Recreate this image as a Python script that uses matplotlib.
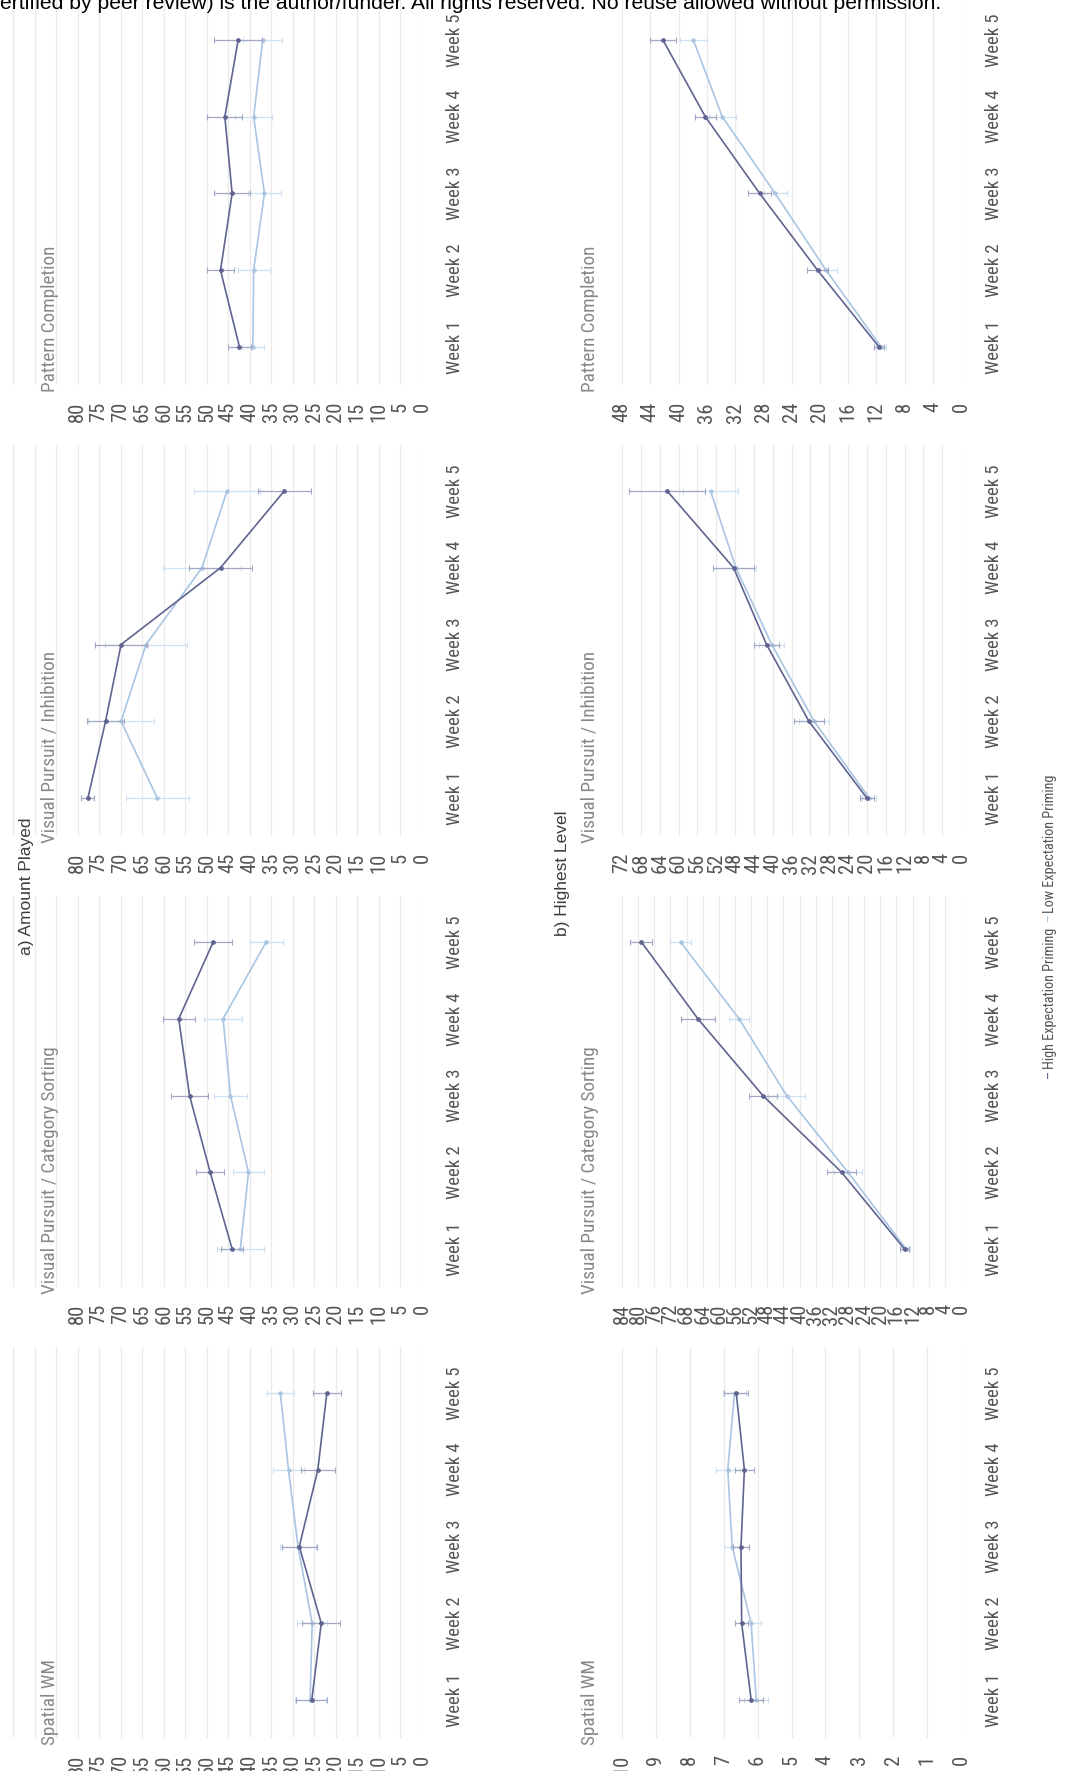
import numpy as np
import matplotlib
matplotlib.use("Agg")
import matplotlib.pyplot as plt
from matplotlib import font_manager
from matplotlib.font_manager import FontProperties
from matplotlib.ticker import FixedLocator, FuncFormatter

# ---------------- data ----------------
weeks = ["Week 1", "Week 2", "Week 3", "Week 4", "Week 5"]
panel_titles = ["Pattern Completion", "Visual Pursuit / Inhibition",
                "Visual Pursuit / Category Sorting", "Spatial WM"]
series_names = ["High Expectation Priming", "Low Expectation Priming"]
header = ("ertified by peer review) is the author/funder. All rights reserved. "
          "No reuse allowed without permission.")

# a) Amount Played
amt_pc_high = [42.4, 46.8, 44.1, 45.8, 42.7]
amt_pc_low = [39.3, 39.1, 36.6, 39.1, 37.0]
amt_pc_high_err = [2.7, 3.2, 4.1, 4.1, 5.5]
amt_pc_low_err = [2.5, 3.7, 3.9, 4.3, 4.5]

amt_inh_high = [77.6, 73.5, 69.9, 46.8, 32.0]
amt_inh_low = [61.5, 69.9, 64.1, 51.1, 45.3]
amt_inh_high_err = [1.5, 4.3, 6.1, 7.4, 6.2]
amt_inh_low_err = [7.3, 7.6, 9.5, 9.0, 7.6]

amt_cs_high = [44.1, 49.2, 54.0, 56.5, 48.5]
amt_cs_low = [42.2, 40.3, 44.5, 46.2, 36.2]
amt_cs_high_err = [2.5, 3.2, 4.4, 3.7, 4.4]
amt_cs_low_err = [5.4, 3.6, 3.9, 4.4, 3.8]

amt_swm_high = [25.6, 23.4, 28.5, 24.2, 22.1]
amt_swm_low = [26.0, 25.5, 28.8, 31.0, 32.9]
amt_swm_high_err = [3.6, 4.4, 4.1, 3.9, 3.3]
amt_swm_low_err = [3.6, 3.5, 4.1, 3.6, 3.1]

# b) Highest Level
hl_pc_high = [11.6, 20.3, 28.5, 36.2, 42.2]
hl_pc_low = [11.3, 19.1, 26.3, 33.8, 37.9]
hl_pc_high_err = [0.7, 1.5, 1.6, 1.5, 1.9]
hl_pc_low_err = [0.7, 1.5, 1.6, 1.9, 1.9]

hl_inh_high = [20.0, 32.3, 41.3, 48.3, 62.4]
hl_inh_low = [19.5, 31.2, 40.2, 47.8, 53.2]
hl_inh_high_err = [1.5, 3.2, 2.6, 4.3, 8.1]
hl_inh_low_err = [1.5, 3.2, 2.6, 4.3, 5.8]

hl_cs_high = [14.0, 29.6, 49.1, 65.2, 79.2]
hl_cs_low = [13.6, 28.0, 43.2, 55.0, 69.5]
hl_cs_high_err = [1.0, 3.5, 3.5, 4.3, 2.7]
hl_cs_low_err = [1.0, 3.5, 4.5, 2.5, 2.5]

hl_swm_high = [6.19, 6.47, 6.49, 6.39, 6.63]
hl_swm_low = [6.04, 6.19, 6.75, 6.88, 6.68]
hl_swm_high_err = [0.35, 0.20, 0.24, 0.27, 0.35]
hl_swm_low_err = [0.35, 0.30, 0.24, 0.35, 0.35]

# axis tick ranges (max, step)
amt_axis = [(80, 5), (80, 5), (80, 5), (80, 5)]
hl_axis = [(48, 4), (72, 4), (84, 4), (10, 1)]

col_data = [
    [(amt_pc_high, amt_pc_high_err, amt_pc_low, amt_pc_low_err),
     (amt_inh_high, amt_inh_high_err, amt_inh_low, amt_inh_low_err),
     (amt_cs_high, amt_cs_high_err, amt_cs_low, amt_cs_low_err),
     (amt_swm_high, amt_swm_high_err, amt_swm_low, amt_swm_low_err)],
    [(hl_pc_high, hl_pc_high_err, hl_pc_low, hl_pc_low_err),
     (hl_inh_high, hl_inh_high_err, hl_inh_low, hl_inh_low_err),
     (hl_cs_high, hl_cs_high_err, hl_cs_low, hl_cs_low_err),
     (hl_swm_high, hl_swm_high_err, hl_swm_low, hl_swm_low_err)],
]
col_axes = [amt_axis, hl_axis]
col_labels = ["a) Amount Played", "b) Highest Level"]

# ---------------- fonts ----------------
def pick_narrow():
    prefs = ["Liberation Sans Narrow", "Roboto Condensed", "Noto Sans",
             "DejaVu Sans", "Open Sans", "Roboto", "Inter", "Lato"]
    cands = []
    for f in font_manager.fontManager.ttflist:
        st = str(f.stretch).lower()
        narrow = ("narrow" in f.name.lower() or "condensed" in f.name.lower()
                  or st in ("condensed", "semi-condensed", "extra-condensed")
                  or "condensed" in f.fname.lower() or "narrow" in f.fname.lower())
        if not narrow:
            continue
        if str(f.style) != "normal":
            continue
        w = f.weight
        try:
            w = int(w)
        except Exception:
            w = 400 if str(w) in ("normal", "regular", "book") else 700
        if w not in (400,):
            continue
        fl = f.fname.lower()
        rank_s = 1 if ("semicondensed" in fl or "semi" in fl) else 0
        rank = len(prefs)
        for i, p in enumerate(prefs):
            if f.name.startswith(p):
                rank = i
                break
        cands.append((rank, rank_s, f.fname))
    if cands:
        cands.sort()
        return FontProperties(fname=cands[0][2])
    return FontProperties(family=["Liberation Sans", "DejaVu Sans"])


NFP = pick_narrow()
REG = ["Liberation Sans", "DejaVu Sans"]

HIGH_C = "#5f6490"
LOW_C = "#a9c5e2"
HIGH_E = "#a3a7c6"
LOW_E = "#cfe0f0"
GRID_C = "#eaeaea"
TXT_C = "#555555"
TITLE_C = "#888888"

W, H = 1082, 1771
fig = plt.figure(figsize=(W / 100, H / 100), dpi=100)
fig.patch.set_facecolor("white")
renderer = fig.canvas.get_renderer()


def fit_size(text, target_px, fp=None, family=None, base=10.0):
    if fp is not None:
        t = fig.text(0, 0, text, fontproperties=fp.copy())
        t.set_fontsize(base)
    else:
        t = fig.text(0, 0, text, family=family, fontsize=base)
    w = t.get_window_extent(renderer=renderer).width
    t.remove()
    return base * target_px / w


TICK_FS = fit_size("80", 20, fp=NFP)
WEEK_FS = fit_size("Week 1", 53, fp=NFP)
TITLE_FS = fit_size("Spatial WM", 86, fp=NFP)
LEG_FS = fit_size(series_names[0], 142, fp=NFP)


def nfp(size):
    p = NFP.copy()
    p.set_size(size)
    return p


def fx(x):
    return x / W


def fy(y):
    return 1 - y / H


SP = 76.75          # px per week
ROW_PITCH = 451
Y0 = 0.5
Y1 = 5.6

for c in range(2):
    off = 540 * c
    for r in range(4):
        w5 = 40 + ROW_PITCH * r
        w1 = w5 + 4 * SP
        top = w5 - (Y1 - 5) * SP
        bot = w1 + (1 - Y0) * SP
        if c == 0:
            left, right = 13, 422
        else:
            left, right = 622, 961
        vmax, step = col_axes[c][r]
        ax = fig.add_axes([fx(left), fy(bot), fx(right - left), (bot - top) / H])
        ax.set_facecolor("none")
        yw = np.arange(1, 6)
        hi, hie, lo, loe = col_data[c][r]
        ax.errorbar(lo, yw, xerr=loe, color=LOW_C, ecolor=LOW_E, lw=1.2,
                    elinewidth=0.9, capsize=2, capthick=0.8, marker="o",
                    ms=2.2, mfc=LOW_C, mec=LOW_C, zorder=3,
                    label=series_names[1])
        ax.errorbar(hi, yw, xerr=hie, color=HIGH_C, ecolor=HIGH_E, lw=1.2,
                    elinewidth=0.9, capsize=2, capthick=0.8, marker="o",
                    ms=2.4, mfc=HIGH_C, mec=HIGH_C, zorder=4,
                    label=series_names[0])
        if c == 0:
            xmax_lim = 95
            grid_ticks = np.arange(0, 96, 5)
        else:
            xmax_lim = vmax
            grid_ticks = np.arange(0, vmax + step / 2, step)
        ax.set_xlim(xmax_lim, 0)
        ax.set_ylim(Y0, Y1)
        ax.xaxis.set_major_locator(FixedLocator(grid_ticks))
        ax.xaxis.set_major_formatter(FuncFormatter(
            lambda v, p, vm=vmax: ("%g" % v) if v <= vm + 1e-9 else ""))
        ax.grid(axis="x", color=GRID_C, lw=0.9)
        ax.set_axisbelow(True)
        ax.tick_params(axis="x", length=0, pad=12, labelcolor=TXT_C,
                       labelrotation=90)
        for lab in ax.get_xticklabels():
            lab.set_fontproperties(nfp(TICK_FS))
        ax.yaxis.tick_right()
        ax.set_yticks(yw)
        ax.set_yticklabels(weeks, rotation=90, va="center", ha="left",
                           fontproperties=nfp(WEEK_FS), color=TXT_C)
        ax.tick_params(axis="y", length=0, pad=17)
        for s in ax.spines.values():
            s.set_visible(False)
        # panel title
        fig.text(fx(off + 50), fy(w1 + 45), panel_titles[r], rotation=90,
                 ha="center", va="bottom", fontproperties=nfp(TITLE_FS),
                 color=TITLE_C)

# row-group labels
fig.text(fx(27), fy(886), col_labels[0], rotation=90, ha="center",
         va="center", family=REG, fontsize=12.5, color="#3c3c3c")
fig.text(fx(563), fy(873), col_labels[1], rotation=90, ha="center",
         va="center", family=REG, fontsize=12.5, color="#3c3c3c")

# legend (rotated)
fig.text(fx(1050), fy(1078), "\u2013", rotation=90, ha="center", va="bottom",
         fontproperties=nfp(LEG_FS), color=HIGH_C)
fig.text(fx(1050), fy(1069), series_names[0], rotation=90, ha="center",
         va="bottom", fontproperties=nfp(LEG_FS), color=TXT_C)
fig.text(fx(1050), fy(921), "\u2013", rotation=90, ha="center", va="bottom",
         fontproperties=nfp(LEG_FS), color=LOW_C)
fig.text(fx(1050), fy(913), series_names[1], rotation=90, ha="center",
         va="bottom", fontproperties=nfp(LEG_FS), color=TXT_C)

# header line (cut at top in the source image)
ht = fig.text(0.0, fy(9), header, ha="left", va="baseline", family=REG,
              fontsize=12, color="black")
wpx = ht.get_window_extent(renderer=renderer).width
ht.set_fontsize(12 * 945 / wpx)

fig.savefig("out.png", dpi=100, facecolor="white")
